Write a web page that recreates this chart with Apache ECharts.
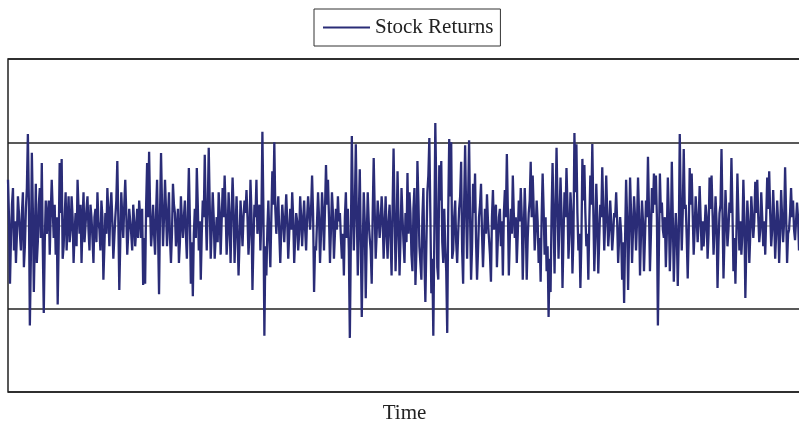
<!DOCTYPE html>
<html>
<head>
<meta charset="utf-8">
<script src="https://cdn.jsdelivr.net/npm/echarts@6/dist/echarts.min.js"></script>
<style>
  html, body { margin: 0; padding: 0; background: #fff; }
  #chart { width: 799px; height: 424px; }
</style>
</head>
<body>
<div id="chart"></div>
<script>
// series name and y range (threshold lines at +-2)
const seriesName = 'Stock Returns';
const yTicks = [-4, -2, 0, 2, 4];

// returns, left to right
const returns = [
  1.1, 0.2, -1.4, -0.3, 0.5, 0.9, -0.6, 0.1, -0.9, -0.2, 0.7, 0.3, -0.2, -0.6, 0.3, 0.8, -1.0, -0.5, 0.4, 0.9,
  2.2, 0.6, -2.4, -0.8, 1.75, 0.4, -1.6, -0.3, 1.0, -0.9, -0.4, 0.5, 0.9, -0.3, 1.5, -0.5, -2.1, -0.4, 0.6, -0.2,
  0.2, 0.6, -0.7, 0.3, 1.1, 0.4, -0.3, 0.5, -0.7, 0.2, -1.9, -0.4, 1.5, 0.3, 1.6, -0.8, -0.5, 0.2, 0.8, -0.6,
  0.1, 0.7, -0.4, -0.1, 0.7, 0.2, -0.9, -0.2, 0.3, -0.5, 1.1, 0.4, -0.2, 0.5, -0.9, 0.1, 0.8, -0.4, 0, 0.4,
  0.7, -0.1, -0.6, 0.5, 0.2, -0.3, -0.9, 0.2, 0.4, -0.4, 0.8, 0.1, -0.1, -0.6, 0.6, 0.2, -1.3, -0.5, 0.3, -0.2,
  0.9, 0.3, -0.5, 0.4, 0.8, 0.1, -0.8, -0.3, 0.2, 0.6, 1.55, 0.2, -1.55, -0.4, 0.8, 0.2, -0.3, 0.5, 1.1, 0.3,
  -0.7, -0.2, 0.4, 0.1, -0.2, -0.6, 0.5, 0.1, -0.5, -0.1, 0.4, -0.3, 0.6, 0.2, -0.3, 0.4, -1.43, -0.3, -1.4, 0.5,
  1.5, 0.2, 1.77, 0.4, -0.5, -0.1, 0.5, -0.2, -0.7, 0.3, 1.1, -0.2, -1.65, 0.3, 1.74, 0.5, -0.5, 0.2, 1.1, 0.4,
  -0.5, 0.2, 0.8, -0.3, -0.9, -0.2, 1.0, 0.5, 0.3, -0.5, -0.1, 0.4, -0.9, -0.4, 0.7, 0.1, -0.3, 0.2, 0.6, -0.2,
  -0.8, 0.3, 1.38, 0.2, -1.4, -0.4, -1.7, -0.2, 0.4, -0.3, 1.38, 0.5, -0.6, 0.1, -1.3, -0.2, 0.6, 0.2, 1.7, 0.3,
  -0.6, 0.4, 1.87, 0.5, -0.8, -0.1, 0.8, 0.2, -0.8, -0.3, 0.2, -0.4, 0.8, 0.3, -0.7, 0.1, 0.9, 0.2, 1.2, 0.4,
  -0.7, -0.2, 0.8, 0.1, -0.9, 0.3, 1.15, 0.4, -0.9, -0.1, 0.7, -0.2, -1.2, -0.4, 0.6, 0.1, -0.5, 0.2, 0.6, 0.3,
  0.85, 0.2, -0.7, -0.2, 1.1, 0.3, -1.55, -0.4, 0.5, 0.2, 1.1, -0.2, 0.3, 0.5, -0.6, 0.2, 2.25, 0.4, -2.65, -0.5,
  -1.2, -0.1, 0.6, -0.3, -1.0, 0.2, 1.3, 0.5, 2.0, 0.4, -0.2, 0.3, 0.7, -0.2, -0.9, -0.1, 0.5, 0.1, -0.4, 0.2,
  0.75, 0.1, -0.8, -0.2, 0.4, -0.1, 0.8, 0.2, -0.9, -0.3, 0.3, 0.1, -0.6, -0.2, 0.7, 0.2, -0.5, 0.1, 0.6, -0.1,
  -0.6, 0.2, 0.7, 0.3, -0.1, 0.4, 1.2, 0.3, -1.6, -0.5, -0.6, 0.1, 0.8, 0.2, -0.9, -0.2, 0.8, 0.3, -0.6, 0.4,
  1.45, 0.5, 1.1, 0.2, -0.9, -0.1, 0.8, 0.3, -0.8, -0.2, 0.4, -0.1, 0.7, 0.1, 0.3, -0.3, -0.8, -0.2, -1.2, 0.2,
  0.8, -0.3, 0.4, -0.6, -2.7, -0.4, 2.15, 0.5, -0.6, 0.4, 1.95, 0.3, -1.2, 0.2, 1.35, -0.4, -2.2, -0.5, 0.8, 0.1,
  -1.75, -0.3, 0.8, 0.1, -0.3, -0.6, -1.4, 0.3, 1.62, 0.4, -0.8, -0.2, 0.6, 0.2, -0.3, 0.1, 0.7, 0.2, -0.8, -0.1,
  0.7, -0.2, -0.8, 0.1, 0.5, -0.3, -1.2, 0.4, 1.85, 0.3, -1.1, -0.2, 1.3, 0.1, -1.2, -0.3, 0.9, 0.2, -0.4, -0.9,
  0.3, -0.4, 1.26, -0.2, 0.8, 0.3, -0.7, -1.1, 0.4, 0.9, -1.43, -0.6, 1.55, 0.6, -0.5, -0.9, -1.3, 0.2, 0.9, -0.8,
  -1.84, -0.5, 0.8, 1.2, 2.1, 0.3, -1.63, -0.8, -2.65, -0.3, 2.46, 0.9, -1.0, -1.3, 1.45, 0.6, 1.55, -0.4, -0.9, 0.4,
  -0.5, -1.1, -2.58, 0.3, 2.08, 0.7, 2.0, -0.8, -0.6, 0.2, 0.6, -0.4, -0.9, -0.2, 0.4, 0.7, 1.53, -0.6, -1.4, 0.5,
  1.93, 0.4, -0.8, 0.6, 2.05, 0.2, -1.3, -0.5, 1.0, 0.3, 1.25, -0.4, -1.3, -0.6, 0.2, 0.5, 1.0, -0.2, -1.0, -0.3,
  0.4, -0.2, 0.75, 0.1, -0.3, -0.7, -1.35, 0.2, 0.85, -0.1, 0.3, 0.5, -1.0, -0.3, 0.2, 0.4, -0.5, 0.1, -1.2, 0.3,
  0.85, 0.2, 1.72, 0.4, -1.2, -0.3, 0.4, -0.2, 1.2, 0.3, -0.3, 0.2, -0.9, -0.2, 0.6, 0.1, 0.9, 0.2, -1.3, -0.2,
  0.9, 0.1, -1.3, -0.3, 0.3, 0.6, 1.53, 0.2, 1.2, 0.4, -0.6, -0.1, 0.6, 0.1, -0.9, -0.3, -1.35, 0.2, 1.25, 0.4,
  -0.7, 0.2, -1.1, -0.5, -2.2, -0.8, -1.6, 0.3, 1.5, 0.2, -1.15, 0.4, 1.87, 0.5, -0.8, 0.2, 1.15, 0.3, -1.5, -0.3,
  0.8, 0.2, 1.38, 0.5, -0.8, -0.2, 0.8, 0.3, -1.15, -0.3, 2.22, 0.8, 1.95, 0.3, -0.6, -0.2, -1.5, -0.4, 1.6, 0.6,
  1.45, 0.3, -0.5, -0.2, -1.3, 0.1, 1.2, 0.5, 1.96, 0.4, -1.1, -0.3, 1.0, 0.2, -1.15, -0.3, 0.5, 0.2, 1.4, 0.4,
  -0.6, 0.1, 1.2, 0.3, -0.5, -0.1, 0.6, 0.1, -0.6, -0.2, 0.3, 0.2, 0.8, 0.1, -0.9, -0.3, 0.2, -0.2, -1.3, -0.4,
  -1.86, -0.3, 1.1, 0.2, -1.55, -0.2, 1.15, 0.3, -0.9, -0.1, 0.7, 0.2, -0.6, 0.1, 1.15, 0.3, -1.2, -0.2, 0.6, 0.1,
  -1.1, -0.3, 0.6, 0.2, 1.65, 0.4, -1.1, -0.2, 0.9, 0.3, 1.25, 0.5, 1.2, 0.2, -2.4, -0.6, 1.25, 0.3, 0.55, -0.1,
  -0.3, 0.2, -1.0, -0.2, 1.15, 0.3, -1.1, -0.3, 1.53, 0.2, -1.35, -0.4, 0.3, -0.2, -1.45, -0.3, 2.2, 0.5, -0.6, 0.3,
  1.84, 0.4, 0.5, -0.3, -1.27, -0.2, 1.38, 0.5, 1.25, 0.3, -0.7, -0.1, 0.7, 0.2, -0.4, 0.1, 0.95, 0.2, -0.6, 0.1,
  -0.5, -0.1, 0.5, 0.2, -0.8, -0.2, 1.15, 0.4, 1.2, 0.3, -0.7, -0.1, 0.7, 0.1, -1.5, -0.4, 0.3, 0.5, 1.84, 0.3,
  -1.27, -0.3, 0.85, 0.2, -0.5, -0.1, 0.55, 0.3, 1.62, 0.4, -1.1, -0.3, -1.4, -0.2, 1.25, 0.3, -0.6, 0.1, -0.7, -0.2,
  1.1, 0.2, -1.74, -0.5, 0.6, 0.1, -0.9, -0.2, 0.7, 0.2, -0.3, 0.1, 1.05, 0.3, 1.1, 0.2, -0.4, -0.1, 0.8, 0.2,
  -0.5, 0.1, -0.7, 0.2, 1.15, 0.4, 1.3, 0.3, -0.5, -0.1, 0.85, 0.2, -0.8, -0.2, 0.6, 0.1, -0.9, -0.2, 0.85, 0.2,
  -0.4, 0.1, 1.4, 0.3, -0.9, -0.2, -0.1, 0.3, 0.9, 0.2, 0.6, -0.1, -0.35, 0.1, 0.55, 0.2, -0.6, -0.1, 0.3
];
const times = returns.map((v, i) => i + 1);

const serif = '"Liberation Serif", "DejaVu Serif", serif';
const chart = echarts.init(document.getElementById('chart'), null, {renderer: 'canvas'});

chart.setOption({
  animation: false,
  backgroundColor: '#fff',
  legend: {
    top: 9,
    left: 314,
    data: [seriesName],
    icon: 'rect',
    itemWidth: 47,
    itemHeight: 2,
    borderColor: '#333',
    borderWidth: 1,
    padding: [8, 7, 8, 9],
    textStyle: {fontFamily: serif, fontSize: 21, lineHeight: 21, color: '#222'}
  },
  grid: {
    left: 8, right: -2, top: 59, bottom: 32,
    outerBoundsMode: 'none',
    show: true,
    borderColor: '#222',
    borderWidth: 1.5
  },
  xAxis: {
    type: 'category',
    data: times,
    boundaryGap: false,
    name: 'Time',
    nameLocation: 'middle',
    nameGap: 11,
    nameTextStyle: {fontFamily: serif, fontSize: 21, color: '#222'},
    axisLine: {show: false},
    axisTick: {show: false},
    axisLabel: {show: false},
    splitLine: {show: false}
  },
  yAxis: {
    type: 'value',
    min: yTicks[0],
    max: yTicks[yTicks.length - 1],
    interval: 2,
    axisLine: {show: false},
    axisTick: {show: false},
    axisLabel: {show: false},
    splitLine: {
      show: true,
      lineStyle: {color: ['#222', '#222', '#a8a8a8', '#222', '#222'], width: 1.5}
    }
  },
  series: [{
    name: seriesName,
    type: 'line',
    data: returns,
    symbol: 'none',
    lineStyle: {color: '#2a2c77', width: 2.3},
    itemStyle: {color: '#2a2c77'}
  }]
});
</script>
</body>
</html>
